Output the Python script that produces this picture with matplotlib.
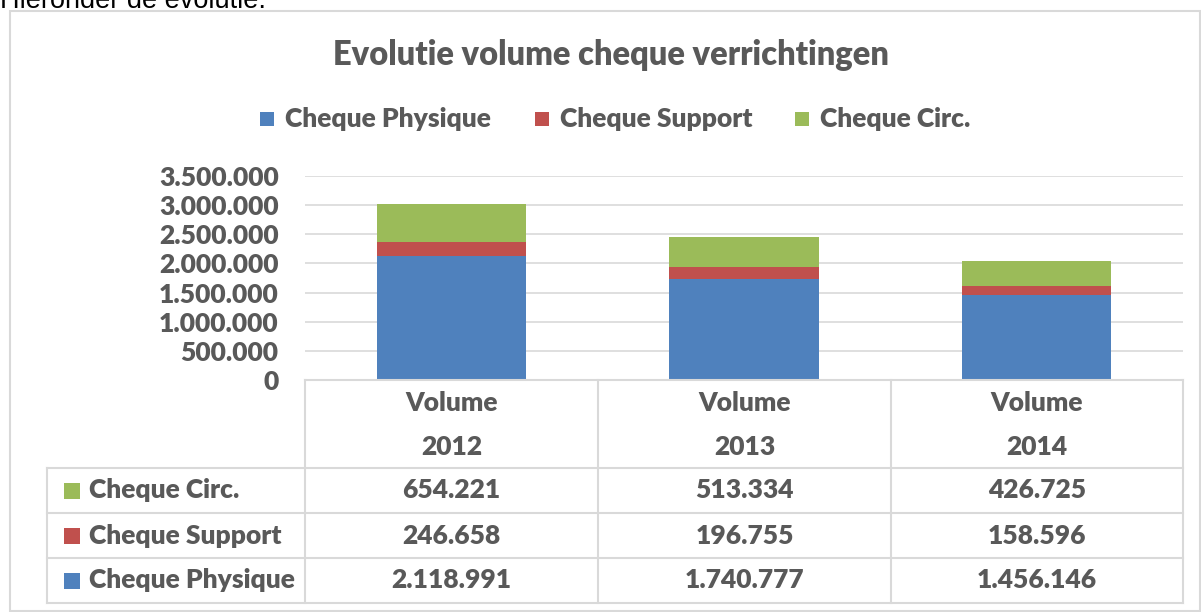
import matplotlib
matplotlib.use("Agg")
import matplotlib.pyplot as plt
from matplotlib.patches import Rectangle
from matplotlib.lines import Line2D

# data
years = ["2012", "2013", "2014"]
physique = [2118991, 1740777, 1456146]
support = [246658, 196755, 158596]
circ = [654221, 513334, 426725]
yticks = [0, 500000, 1000000, 1500000, 2000000, 2500000, 3000000, 3500000]

W, H = 1201, 612
BLUE, RED, GREEN = "#4F81BD", "#C0504D", "#9BBB59"
TXT = "#595959"
GRID = "#D9D9D9"
FONT = "Lato"
WT = "heavy"
FS = 19  # legend / table / ticks


def fx(x):
    return x / W


def fy(y):
    return 1 - y / H


def dots(v):
    return f"{v:,}".replace(",", ".")


fig = plt.figure(figsize=(W / 100, H / 100), dpi=100)

# clipped text above the chart (cut off in the original too)
fig.text(fx(0), fy(8), "Hieronder de evolutie.", fontsize=19.5, family="Liberation Sans",
         color="black", va="baseline", ha="left")

# chart border
fig.add_artist(Rectangle((fx(10), fy(611)), fx(1190), 600 / H, transform=fig.transFigure,
                         fill=False, edgecolor=GRID, lw=1.5))

fig.text(fx(611), fy(55), "Evolutie volume cheque verrichtingen", fontsize=23.5,
         family=FONT, weight=WT, color=TXT, ha="center", va="center")

# plot area
left, right, top, bottom = 305, 1183, 176, 380
ax = fig.add_axes([fx(left), fy(bottom), fx(right - left), (bottom - top) / H])
x = range(len(years))
w = 0.51
ax.bar(x, physique, w, color=BLUE, zorder=3, label="Cheque Physique")
ax.bar(x, support, w, bottom=physique, color=RED, zorder=3, label="Cheque Support")
base2 = [a + b for a, b in zip(physique, support)]
ax.bar(x, circ, w, bottom=base2, color=GREEN, zorder=3, label="Cheque Circ.")
ax.set_xlim(-0.5, 2.5)
ax.set_ylim(0, 3500000)
ax.set_yticks(yticks)
ax.set_yticklabels([dots(v) for v in yticks], fontsize=FS, family=FONT, weight=WT, color=TXT)
ax.tick_params(axis="y", length=0, pad=19)
ax.set_xticks([])
ax.grid(axis="y", color=GRID, lw=1.2, zorder=0)
for s in ax.spines.values():
    s.set_visible(False)

# legend
leg_items = [(260, "Cheque Physique", BLUE), (535, "Cheque Support", RED), (795, "Cheque Circ.", GREEN)]
for lx, name, col in leg_items:
    fig.add_artist(Rectangle((fx(lx), fy(126)), 14 / W, 14 / H, transform=fig.transFigure,
                             color=col, lw=0))
    fig.text(fx(lx + 25), fy(119), name, fontsize=FS, family=FONT, weight=WT,
             color=TXT, va="center", ha="left")

# data table
cols = [305, 598, 891, 1183]
rows = [380, 468, 513, 558, 603]
tl = dict(color=GRID, lw=1.5, transform=fig.transFigure)
for cx in cols:
    fig.add_artist(Line2D([fx(cx), fx(cx)], [fy(380), fy(603)], **tl))
fig.add_artist(Line2D([fx(47), fx(47)], [fy(468), fy(603)], **tl))
fig.add_artist(Line2D([fx(305), fx(1183)], [fy(380), fy(380)], **tl))
for ry in rows[1:]:
    fig.add_artist(Line2D([fx(47), fx(1183)], [fy(ry), fy(ry)], **tl))

for i, yr in enumerate(years):
    cx = (cols[i] + cols[i + 1]) / 2
    fig.text(fx(cx), fy(403), "Volume", fontsize=FS, family=FONT, weight=WT,
             color=TXT, ha="center", va="center")
    fig.text(fx(cx), fy(447), yr, fontsize=FS, family=FONT, weight=WT,
             color=TXT, ha="center", va="center")

table_rows = [("Cheque Circ.", GREEN, circ), ("Cheque Support", RED, support),
              ("Cheque Physique", BLUE, physique)]
for r, (name, col, vals) in enumerate(table_rows):
    cy = (rows[r + 1] + rows[r + 2]) / 2
    fig.add_artist(Rectangle((fx(64), fy(cy + 8)), 16 / W, 16 / H, transform=fig.transFigure,
                             color=col, lw=0))
    fig.text(fx(89), fy(cy), name, fontsize=FS, family=FONT, weight=WT,
             color=TXT, ha="left", va="center")
    for i, v in enumerate(vals):
        cx = (cols[i] + cols[i + 1]) / 2
        fig.text(fx(cx), fy(cy), dots(v), fontsize=FS, family=FONT, weight=WT,
                 color=TXT, ha="center", va="center")

fig.savefig("out.png", dpi=100, facecolor="white")
